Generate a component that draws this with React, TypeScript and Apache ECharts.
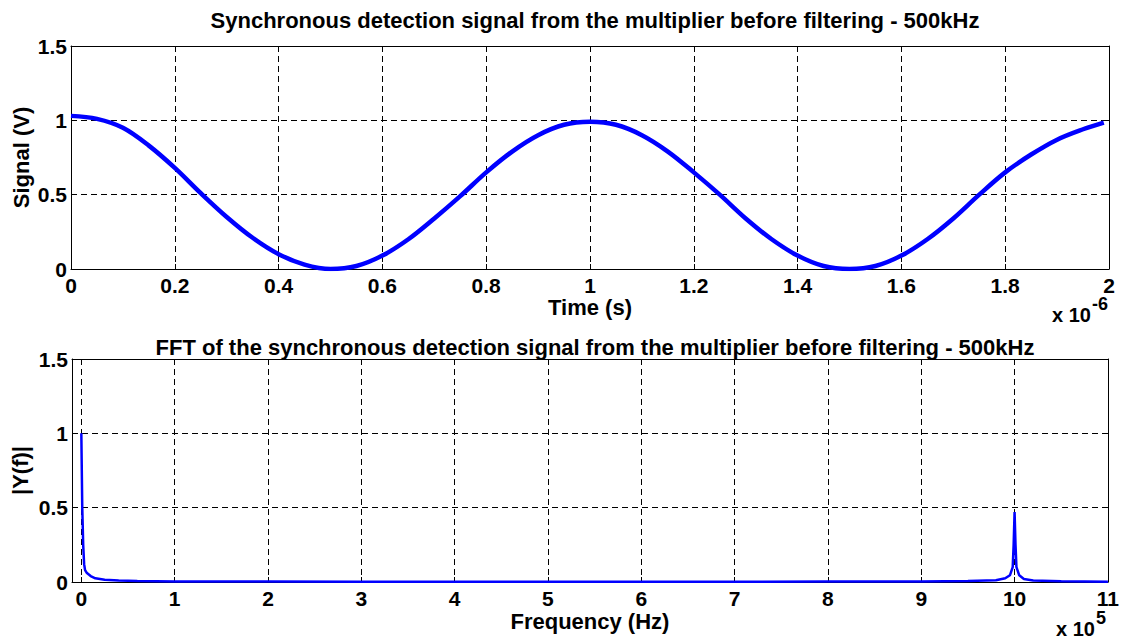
import React, { useEffect, useRef } from "react";
import * as echarts from "echarts";

// Time axis in units of 1e-6 s
const timeUs = [0, 0.05, 0.1, 0.15, 0.2, 0.25, 0.3, 0.35, 0.4, 0.45, 0.5, 0.55, 0.6, 0.65, 0.7, 0.75, 0.8, 0.85, 0.9, 0.95, 1.0, 1.05, 1.1, 1.15, 1.2, 1.25, 1.3, 1.35, 1.4, 1.45, 1.5, 1.55, 1.6, 1.65, 1.7, 1.75, 1.8, 1.85, 1.9, 1.95, 1.99];
const signalV = [1.03, 1.01, 0.95, 0.83, 0.68, 0.51, 0.35, 0.21, 0.1, 0.03, 0.0, 0.02, 0.09, 0.2, 0.34, 0.49, 0.65, 0.79, 0.9, 0.97, 0.99, 0.97, 0.9, 0.79, 0.65, 0.5, 0.34, 0.2, 0.09, 0.02, 0.0, 0.02, 0.09, 0.2, 0.34, 0.5, 0.65, 0.77, 0.87, 0.94, 0.985];

// Frequency axis in units of 1e5 Hz
const freq1e5 = [0, 0.01, 0.02, 0.03, 0.04, 0.06, 0.1, 0.15, 0.25, 0.4, 0.6, 1, 2, 3, 4, 5, 6, 7, 8, 9, 9.5, 9.8, 9.9, 9.95, 9.98, 9.99, 10, 10.01, 10.02, 10.05, 10.1, 10.2, 10.5, 11];
const fftMag = [1.0, 0.5, 0.25, 0.12, 0.08, 0.06, 0.04, 0.025, 0.015, 0.01, 0.006, 0.004, 0.003, 0.002, 0.002, 0.002, 0.002, 0.002, 0.003, 0.004, 0.006, 0.012, 0.025, 0.045, 0.1, 0.25, 0.47, 0.25, 0.1, 0.045, 0.02, 0.01, 0.005, 0.002];

const timeTickStep = 0.2;
const freqTicks = [0, 1, 2, 3, 4, 5, 6, 7, 8, 9, 10, 11];
const yTickStep = 0.5;

const titleTop = "Synchronous detection signal from the multiplier before filtering - 500kHz";
const titleBottom = "FFT of the synchronous detection signal from the multiplier before filtering - 500kHz";

const FONT = "'Liberation Sans', Arial, Helvetica, sans-serif";

export default function App() {
  const ref = useRef<HTMLDivElement>(null);
  useEffect(() => {
    if (!ref.current) return;
    const chart = echarts.init(ref.current, undefined, { renderer: "svg" });
    const labelStyle = { color: "#000", fontFamily: FONT, fontWeight: "bold" as const, fontSize: 21, lineHeight: 18 };
    const nameStyle = { color: "#000", fontFamily: FONT, fontWeight: "bold" as const, fontSize: 22, lineHeight: 18 };
    const titleStyle = { color: "#000", fontFamily: FONT, fontWeight: "bold" as const, fontSize: 22 };
    const axisLine = { show: true, onZero: false, lineStyle: { color: "#000", width: 1 } };
    const tick = { show: true, inside: true, length: 5, lineStyle: { color: "#000", width: 1 } };
    const split = { show: true, lineStyle: { color: "#000", width: 1, type: [6, 4] as any } };
    const fmtX = (v: number) => String(Number(v.toFixed(1)));
    chart.setOption({
      animation: false,
      backgroundColor: "#fff",
      title: [
        { text: titleTop, left: 590, top: 4, textAlign: "center", textStyle: titleStyle },
        { text: titleBottom, left: 590, top: 331, textAlign: "center", textStyle: titleStyle },
      ],
      grid: [
        { left: 71, top: 46, width: 1038, height: 223, containLabel: false },
        { left: 72, top: 359, width: 1037, height: 223, containLabel: false },
      ],
      xAxis: [
        {
          gridIndex: 0, type: "value", min: 0, max: 2, interval: timeTickStep,
          axisLine, axisTick: tick, splitLine: split,
          axisLabel: { ...labelStyle, margin: 7, formatter: fmtX, showMinLabel: true, showMaxLabel: true },
          name: "Time (s)", nameLocation: "middle", nameGap: 29, nameMoveOverlap: false, nameTextStyle: nameStyle,
        },
        {
          gridIndex: 0, type: "value", min: 0, max: 2, interval: timeTickStep, position: "top",
          axisLine, axisTick: tick, splitLine: { show: false }, axisLabel: { show: false },
        },
        {
          gridIndex: 1, type: "value", min: -0.1, max: 11,
          axisLine, axisTick: { ...tick, customValues: freqTicks }, splitLine: split,
          axisLabel: { ...labelStyle, margin: 7, customValues: freqTicks, formatter: (v: number) => String(v) },
          name: "Frequency (Hz)", nameLocation: "middle", nameGap: 30, nameMoveOverlap: false, nameTextStyle: nameStyle,
        },
        {
          gridIndex: 1, type: "value", min: -0.1, max: 11, position: "top",
          axisLine, axisTick: { ...tick, customValues: freqTicks }, splitLine: { show: false }, axisLabel: { show: false },
        },
      ],
      yAxis: [
        {
          gridIndex: 0, type: "value", min: 0, max: 1.5, interval: yTickStep,
          axisLine, axisTick: tick, splitLine: split,
          axisLabel: { ...labelStyle, margin: 4, formatter: (v: number) => String(v) },
          name: "Signal (V)", nameLocation: "middle", nameGap: 41, nameMoveOverlap: false, nameTextStyle: nameStyle,
        },
        {
          gridIndex: 0, type: "value", min: 0, max: 1.5, interval: yTickStep, position: "right",
          axisLine, axisTick: tick, splitLine: { show: false }, axisLabel: { show: false },
        },
        {
          gridIndex: 1, type: "value", min: 0, max: 1.5, interval: yTickStep,
          axisLine, axisTick: tick, splitLine: split,
          axisLabel: { ...labelStyle, margin: 4, formatter: (v: number) => String(v) },
          name: "|Y(f)|", nameLocation: "middle", nameGap: 43, nameMoveOverlap: false, nameTextStyle: nameStyle,
        },
        {
          gridIndex: 1, type: "value", min: 0, max: 1.5, interval: yTickStep, position: "right",
          axisLine, axisTick: tick, splitLine: { show: false }, axisLabel: { show: false },
        },
      ],
      series: [
        {
          type: "line", xAxisIndex: 0, yAxisIndex: 0, showSymbol: false, smooth: 0.35,
          lineStyle: { color: "#0000ff", width: 4.5 },
          data: timeUs.map((t, i) => [t, signalV[i]]),
        },
        {
          type: "line", xAxisIndex: 2, yAxisIndex: 2, showSymbol: false,
          lineStyle: { color: "#0000ff", width: 2.5 },
          data: freq1e5.map((f, i) => [f, fftMag[i]]),
        },
      ],
      graphic: [
        { type: "text", left: 1052, top: 305, style: { text: "x 10", font: `bold 20px ${FONT}`, fill: "#000" } },
        { type: "text", left: 1092, top: 295, style: { text: "-6", font: `bold 18px ${FONT}`, lineHeight: 12, fill: "#000" } },
        { type: "text", left: 1056, top: 619, style: { text: "x 10", font: `bold 20px ${FONT}`, fill: "#000" } },
        { type: "text", left: 1096, top: 609, style: { text: "5", font: `bold 18px ${FONT}`, lineHeight: 12, fill: "#000" } },
      ],
    });
    return () => chart.dispose();
  }, []);
  return <div ref={ref} style={{ position: "fixed", left: 0, top: 0, width: 1122, height: 641, background: "#fff" }} />;
}
